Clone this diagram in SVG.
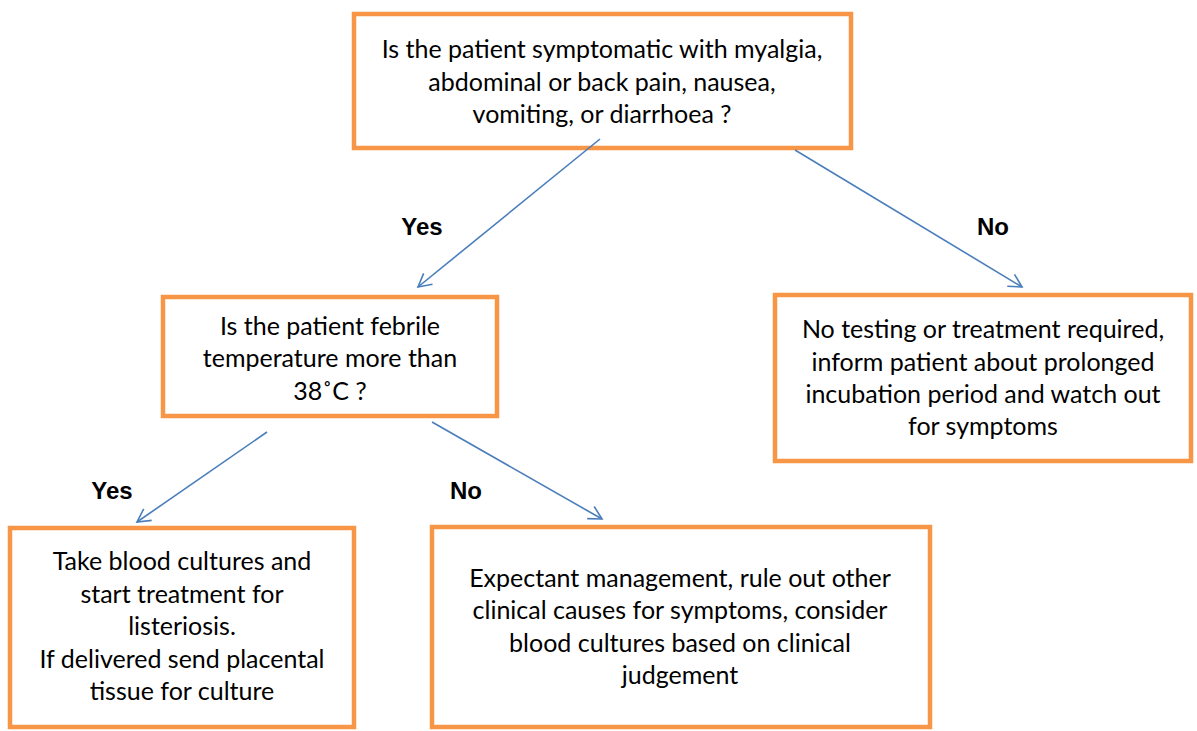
<svg xmlns="http://www.w3.org/2000/svg" width="1197" height="731" viewBox="0 0 1197 731">
<style>
.box{fill:#fff;stroke:#F79646;stroke-width:4.5}
.t{font-family:Lato,"Open Sans",sans-serif;font-size:25px;fill:#000;text-anchor:middle}
.lbl{font-family:"Liberation Sans",Arial,sans-serif;font-size:24px;font-weight:bold;fill:#000;text-anchor:middle}
.c{stroke:#4A7EBB;stroke-width:1.6;fill:none}
</style>
<defs>
<marker id="arr" viewBox="0 0 20 20" refX="15" refY="10" markerWidth="20" markerHeight="20" markerUnits="userSpaceOnUse" orient="auto">
<path d="M2,3 L15,10 L2,17" fill="none" stroke="#4A7EBB" stroke-width="1.6"/>
</marker>
</defs>
<rect width="1197" height="731" fill="#fff"/>
<g id="q1">
<rect class="box" x="354" y="14" width="497" height="134"/>
<text class="t" x="602" y="58">Is the patient symptomatic with myalgia,</text>
<text class="t" x="602" y="91">abdominal or back pain, nausea,</text>
<text class="t" x="602" y="123">vomiting, or diarrhoea ?</text>
</g>
<g id="q2">
<rect class="box" x="163" y="297" width="334" height="119"/>
<text class="t" x="330" y="335">Is the patient febrile</text>
<text class="t" x="330" y="367">temperature more than</text>
<text class="t" x="330" y="400">38˚C ?</text>
</g>
<g id="noTest">
<rect class="box" x="775" y="295" width="416" height="166"/>
<text class="t" x="983" y="338">No testing or treatment required,</text>
<text class="t" x="983" y="371">inform patient about prolonged</text>
<text class="t" x="983" y="403">incubation period and watch out</text>
<text class="t" x="983" y="435">for symptoms</text>
</g>
<g id="treat">
<rect class="box" x="10" y="528" width="344" height="199"/>
<text class="t" x="182" y="570">Take blood cultures and</text>
<text class="t" x="182" y="603">start treatment for</text>
<text class="t" x="182" y="635">listeriosis.</text>
<text class="t" x="182" y="668">If delivered send placental</text>
<text class="t" x="182" y="700">tissue for culture</text>
</g>
<g id="expectant">
<rect class="box" x="432" y="527" width="498" height="200"/>
<text class="t" x="680" y="587">Expectant management, rule out other</text>
<text class="t" x="680" y="619">clinical causes for symptoms, consider</text>
<text class="t" x="680" y="652">blood cultures based on clinical</text>
<text class="t" x="680" y="684">judgement</text>
</g>
<g id="connectors">
<line class="c" x1="600" y1="139" x2="418" y2="287" marker-end="url(#arr)"/>
<line class="c" x1="795" y1="150" x2="1022" y2="287" marker-end="url(#arr)"/>
<line class="c" x1="267" y1="432" x2="137" y2="522" marker-end="url(#arr)"/>
<line class="c" x1="432" y1="422" x2="602" y2="519" marker-end="url(#arr)"/>
<text class="lbl" x="422" y="235">Yes</text>
<text class="lbl" x="993" y="235">No</text>
<text class="lbl" x="112" y="499">Yes</text>
<text class="lbl" x="466" y="499">No</text>
</g>
</svg>
